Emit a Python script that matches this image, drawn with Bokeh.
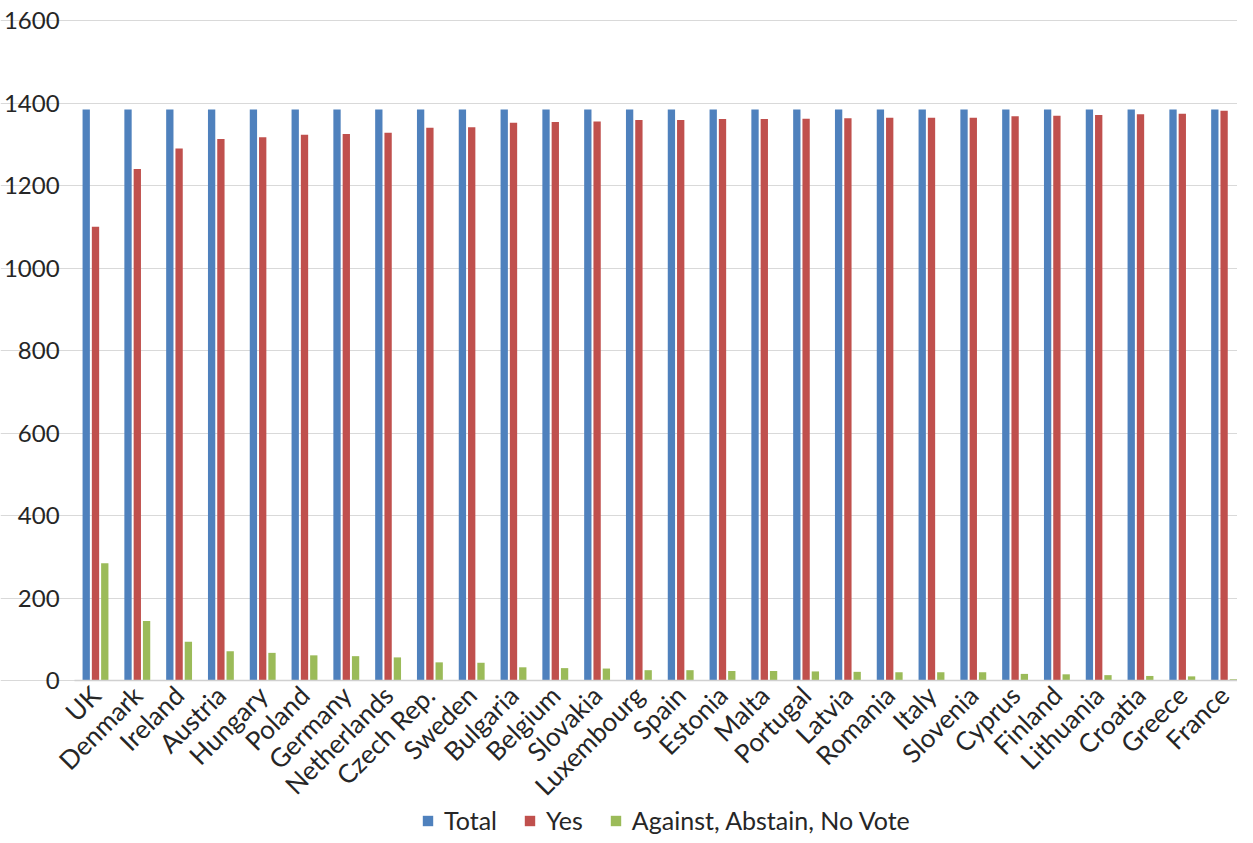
from bokeh.plotting import figure
from bokeh.models import ColumnDataSource, Legend, LegendItem, FixedTicker, Range1d
from bokeh.transform import dodge
from bokeh.embed import file_html
from bokeh.resources import INLINE
from math import pi

countries = ["UK", "Denmark", "Ireland", "Austria", "Hungary", "Poland", "Germany",
             "Netherlands", "Czech Rep.", "Sweden", "Bulgaria", "Belgium", "Slovakia",
             "Luxembourg", "Spain", "Estonia", "Malta", "Portugal", "Latvia", "Romania",
             "Italy", "Slovenia", "Cyprus", "Finland", "Lithuania", "Croatia", "Greece", "France"]
total = [1384] * 28
yes = [1100, 1240, 1290, 1313, 1317, 1323, 1325, 1328, 1340, 1341, 1352, 1354, 1355,
       1359, 1359, 1361, 1361, 1362, 1363, 1364, 1364, 1364, 1368, 1369, 1371, 1373, 1374, 1381]
against = [284, 144, 94, 71, 67, 61, 59, 56, 44, 43, 32, 30, 29, 25, 25, 23, 23, 22,
           21, 20, 20, 20, 16, 15, 13, 11, 10, 3]
y_ticks = [0, 200, 400, 600, 800, 1000, 1200, 1400, 1600]

series_names = ["Total", "Yes", "Against, Abstain, No Vote"]
colors = ["#4f81bd", "#c0504d", "#9bbb59"]

idx = list(range(len(countries)))
src = ColumnDataSource(dict(idx=idx, country=countries, total=total, yes=yes, against=against))

FONT = "Lato"
TXT = "#262626"

W, H = 1237, 835
# layout in canvas pixels
FIRST_PX = 95.0     # centre of first category
CAT_PX = 41.8       # width of one category
TOP_PX = 20.0       # y of the top tick
BASE_PX = 680.0     # y of zero
px_per_unit_y = (BASE_PX - TOP_PX) / y_ticks[-1]
x_start = -FIRST_PX / CAT_PX
x_end = x_start + W / CAT_PX
y_end = y_ticks[-1] + TOP_PX / px_per_unit_y
y_start = -(H - BASE_PX) / px_per_unit_y
left_edge = -0.5

p = figure(x_range=Range1d(x_start, x_end), y_range=Range1d(y_start, y_end),
           width=W, height=H,
           output_backend="svg", toolbar_location=None,
           min_border_left=0, min_border_top=0, min_border_right=0, min_border_bottom=0)

bw = 0.175
off = 0.222
r1 = p.vbar(x=dodge("idx", -off), top="total", width=bw, source=src,
            color=colors[0], line_color=None)
r2 = p.vbar(x=dodge("idx", 0.0), top="yes", width=bw, source=src,
            color=colors[1], line_color=None)
r3 = p.vbar(x=dodge("idx", off), top="against", width=bw, source=src,
            color=colors[2], line_color=None)

p.outline_line_color = None
p.xgrid.grid_line_color = None
p.ygrid.grid_line_color = "#d9d9d9"
p.ygrid.grid_line_width = 1
p.ygrid.bounds = (left_edge, x_end)

p.yaxis.fixed_location = left_edge
p.yaxis.ticker = FixedTicker(ticks=y_ticks)
p.yaxis.axis_line_color = None
p.yaxis.major_tick_line_color = None
p.yaxis.minor_tick_line_color = None
p.yaxis.major_label_text_font = FONT
p.yaxis.major_label_text_font_size = "24px"
p.yaxis.major_label_text_color = TXT
p.yaxis.major_label_standoff = 9

p.xaxis.fixed_location = 0
p.xaxis.bounds = (left_edge, x_end)
p.xaxis.ticker = FixedTicker(ticks=idx)
p.xaxis.major_label_overrides = {i: c for i, c in zip(idx, countries)}
p.xaxis.axis_line_color = "#d0d0d0"
p.xaxis.axis_line_width = 1.5
p.xaxis.major_tick_line_color = None
p.xaxis.minor_tick_line_color = None
p.xaxis.major_label_orientation = pi / 4
p.xaxis.major_label_text_font = FONT
p.xaxis.major_label_text_font_size = "26px"
p.xaxis.major_label_text_color = TXT
p.xaxis.major_label_standoff = 4

legend = Legend(items=[LegendItem(label=series_names[0], renderers=[r1]),
                       LegendItem(label=series_names[1], renderers=[r2]),
                       LegendItem(label=series_names[2], renderers=[r3])],
                orientation="horizontal", location=(421, 0),
                label_text_font=FONT, label_text_font_size="25px", label_text_color=TXT,
                glyph_width=13, glyph_height=13, label_standoff=10, spacing=26,
                border_line_color=None, background_fill_alpha=0, margin=0, padding=0)
p.add_layout(legend, "center")

open("out.html", "w").write(file_html(p, INLINE))
